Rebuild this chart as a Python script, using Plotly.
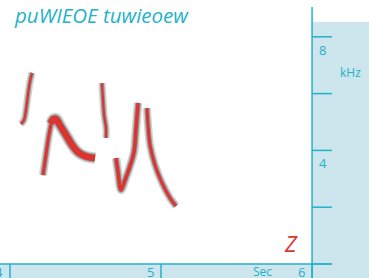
import plotly.graph_objects as go

# Sonogram strokes: time (s) and frequency (kHz)
s1_t = [4.073, 4.093, 4.106, 4.119, 4.132, 4.146]
s1_f = [4.93, 5.07, 5.42, 5.95, 6.41, 6.73]
s2a_t = [4.219, 4.238, 4.258, 4.278]
s2a_f = [3.13, 3.84, 4.54, 5.07]
s2b_t = [4.272, 4.285, 4.305, 4.331, 4.371, 4.411, 4.450, 4.497, 4.563]
s2b_f = [4.95, 5.09, 5.11, 4.89, 4.54, 4.19, 3.94, 3.80, 3.73]
s3_t = [4.609, 4.616, 4.623, 4.636, 4.636]
s3_f = [6.37, 5.77, 5.25, 4.79, 4.44]
s4_t = [4.702, 4.715, 4.735, 4.762, 4.795, 4.821, 4.834, 4.848]
s4_f = [3.73, 3.24, 2.61, 2.96, 3.45, 3.94, 4.72, 5.67]
s5_t = [4.907, 4.914, 4.927, 4.960, 5.007, 5.060, 5.099]
s5_f = [5.49, 4.89, 4.19, 3.49, 2.85, 2.32, 2.04]

strokes = [(s1_t, s1_f, 2.2), (s2a_t, s2a_f, 3), (s2b_t, s2b_f, 6.5), (s3_t, s3_f, 2.2), (s4_t, s4_f, 3.5), (s5_t, s5_f, 3)]

x_ticks = [4, 5, 6]
x_labels = ["4", "5", "6"]
y_ticks = [0, 2, 4, 6, 8]
y_labels = {4: "4", 8: "8"}

title = "puWIEOE tuwieoew"
CYAN = "#22b2ca"
PANEL = "#cde5ec"
RED = "#dc3430"

W, H = 369, 278
X0, X1 = 3.934, 6.377
Y0, Y1 = -0.493, 9.296

fig = go.Figure()
for t, f, w in strokes:
    fig.add_trace(go.Scatter(x=t, y=f, mode="lines", line=dict(color="rgba(95,95,95,0.3)", width=w + 5, shape="spline"), hoverinfo="skip"))
    fig.add_trace(go.Scatter(x=t, y=f, mode="lines", line=dict(color="rgba(95,95,95,0.5)", width=w + 2, shape="spline"), hoverinfo="skip"))
for t, f, w in strokes:
    fig.add_trace(go.Scatter(x=t, y=f, mode="lines", line=dict(color=RED, width=w, shape="spline"), hoverinfo="skip"))

shapes = []
# right panel
shapes.append(dict(type="rect", xref="x", yref="paper", x0=6, x1=X1 + 0.1, y0=-0.1, y1=1 - 22 / H, fillcolor=PANEL, line_width=0, layer="below"))
# bottom strip
shapes.append(dict(type="rect", xref="x", yref="y", x0=X0 - 0.1, x1=6, y0=Y0 - 1, y1=0, fillcolor=PANEL, line_width=0, layer="below"))
# vertical axis line
shapes.append(dict(type="line", xref="x", yref="paper", x0=6, x1=6, y0=-0.05, y1=1 - 7 / H, line=dict(color=CYAN, width=1.5)))
# horizontal axis line
shapes.append(dict(type="line", xref="x", yref="y", x0=X0 - 0.1, x1=6 + 20 / 151, y0=0, y1=0, line=dict(color=CYAN, width=1.5)))
for yt in y_ticks:
    shapes.append(dict(type="line", xref="x", yref="y", x0=6, x1=6 + 20 / 151, y0=yt, y1=yt, line=dict(color=CYAN, width=1.5)))
for xt in x_ticks:
    shapes.append(dict(type="line", xref="x", yref="y", x0=xt, x1=xt, y0=0, y1=Y0 - 1, line=dict(color=CYAN, width=1.5)))

ann = []
ann.append(dict(text=title, x=12 / W, y=1 + 1 / H, xref="paper", yref="paper", xanchor="left", yanchor="top", showarrow=False,
                font=dict(family="Open Sans", size=20.5, color=CYAN, style="italic")))
ann.append(dict(text="Z", x=4 + (291 - 10) / 151, y=(264 - 243) / 28.4, xref="x", yref="y", showarrow=False,
                font=dict(family="Open Sans", size=22, color=RED, style="italic")))
for yt, lab in y_labels.items():
    ann.append(dict(text=lab, x=6 + 5 / 151, y=yt, xref="x", yref="y", xanchor="left", yanchor="top", yshift=-2, showarrow=False,
                    font=dict(family="Open Sans", size=13, color=CYAN)))
ann.append(dict(text="kHz", x=6 + 26 / 151, y=(264 - 72) / 28.4, xref="x", yref="y", xanchor="left", showarrow=False,
                font=dict(family="Open Sans", size=12, color=CYAN)))
for xt, lab in zip(x_ticks, x_labels):
    ann.append(dict(text=lab, x=xt, y=-0.28, xref="x", yref="y", xanchor="right", xshift=-5, showarrow=False,
                    font=dict(family="Open Sans", size=13, color=CYAN)))
ann.append(dict(text="Sec", x=6, y=-0.28, xref="x", yref="y", xanchor="right", xshift=-38, showarrow=False,
                font=dict(family="Open Sans", size=12, color=CYAN)))

fig.update_layout(
    width=W, height=H, margin=dict(l=0, r=0, t=0, b=0),
    paper_bgcolor="white", plot_bgcolor="white", showlegend=False,
    xaxis=dict(range=[X0, X1], visible=False, fixedrange=True),
    yaxis=dict(range=[Y0, Y1], visible=False, fixedrange=True),
    shapes=shapes, annotations=ann,
)
fig.write_html("out.html", config={"displayModeBar": False},
               post_script="document.body.style.margin='0px';document.body.style.overflow='hidden';")
